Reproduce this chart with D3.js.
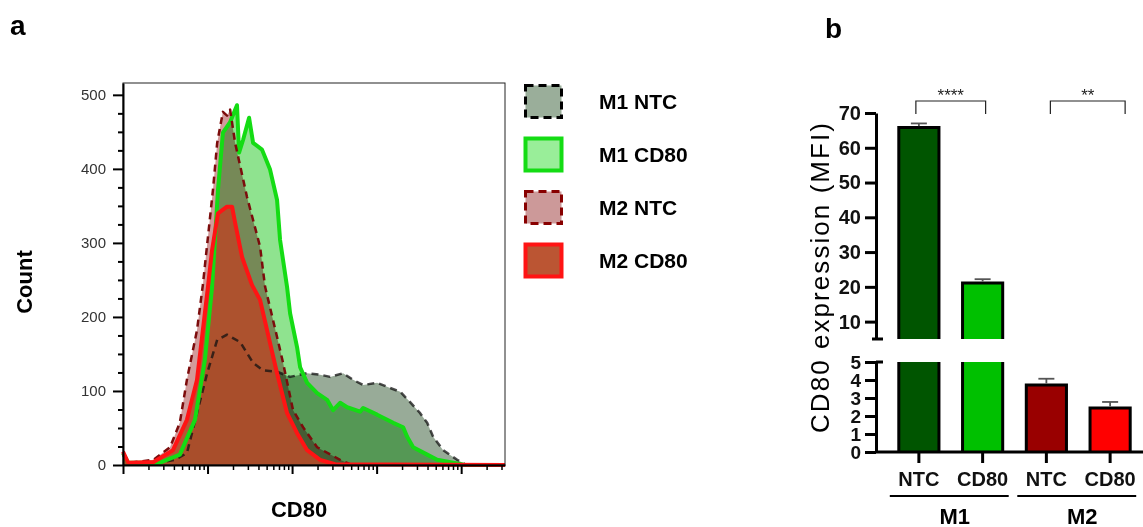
<!DOCTYPE html>
<html>
<head>
<meta charset="utf-8">
<script src="https://cdn.jsdelivr.net/npm/d3@7"></script>
<style>
body { margin: 0; background: #fff; }
svg { font-family: "Liberation Sans", Arial, sans-serif; }
</style>
</head>
<body>
<div class="chart"></div>
<script>
// ---- panel a: CD80 histograms (intensity, count)
const histNames = ["M1 NTC", "M1 CD80", "M2 NTC", "M2 CD80"];

const m1ntcX = [10, 11.5, 27, 41, 57, 75, 99, 130, 170, 243, 346, 454, 664, 947, 1507, 2145, 2818, 4015, 5270, 6925, 10140, 14450, 18980, 24900, 32730, 39630, 46670, 61250, 89700, 111400, 330000];
const m1ntcY = [13, 3, 3, 7, 16, 70, 124, 169, 176, 166, 138, 128, 126, 119, 124, 122, 119, 124, 115, 108, 111, 104, 99, 85, 70, 57, 38, 20, 7, 1, 0];

const m1cd80X = [10, 11.5, 27, 47, 71, 93, 113, 133, 152, 185, 212, 223, 236, 263, 310, 346, 441, 549, 664, 721, 873, 947, 1146, 1245, 1507, 1978, 2596, 3055, 3699, 4479, 6383, 6925, 10140, 15700, 20600, 22970, 27040, 39630, 52040, 80400, 111400, 330000];
const m1cd80Y = [16, 3, 3, 14, 61, 142, 240, 372, 449, 463, 480, 486, 422, 439, 469, 435, 426, 399, 358, 304, 240, 205, 159, 132, 111, 97, 88, 74, 84, 78, 72, 77, 68, 57, 51, 38, 24, 14, 7, 3, 0, 0];

const m2ntcX = [10, 12, 23, 36, 47, 57, 75, 88, 116, 130, 152, 170, 185, 212, 293, 418, 479, 664, 782, 1027, 1350, 1978, 3699, 4857, 330000];
const m2ntcY = [15, 3, 7, 24, 57, 115, 182, 243, 372, 435, 477, 472, 480, 435, 362, 295, 241, 173, 138, 74, 51, 24, 7, 1, 0];

const m2cd80X = [10, 11.5, 23, 39, 57, 75, 88, 101, 113, 133, 170, 195, 212, 256, 336, 418, 506, 664, 873, 1146, 1507, 2145, 3228, 330000];
const m2cd80Y = [18, 3, 4, 20, 61, 115, 182, 240, 290, 340, 349, 349, 327, 281, 243, 223, 182, 124, 70, 43, 20, 7, 1, 0];

const countTicks = [0, 100, 200, 300, 400, 500];
const decadeTicks = [10, 100, 1000, 10000, 100000];

// ---- panel b: CD80 MFI bars
const barKeys = ["M1 NTC", "M1 CD80", "M2 NTC", "M2 CD80"];
const barLabels = ["NTC", "CD80", "NTC", "CD80"];
const barMeans = [65.8, 21.1, 3.72, 2.45];
const barErrors = [1.2, 1.1, 0.35, 0.33];
const groupNames = ["M1", "M2"];
const groupMembers = [["M1 NTC", "M1 CD80"], ["M2 NTC", "M2 CD80"]];
const upperTicks = [10, 20, 30, 40, 50, 60, 70];
const lowerTicks = [0, 1, 2, 3, 4, 5];
const sigPairs = [["M1 NTC", "M1 CD80"], ["M2 NTC", "M2 CD80"]];
const sigLabels = ["****", "**"];

// styles
const histStyle = {
    "M1 NTC":  {fill: "#98ab98", blend: "multiply", op: 1, stroke: "#111", sw: 2.5, dash: "7,5", legFill: "#9aae9a", legStroke: "#000"},
    "M1 CD80": {fill: "#8fe38f", blend: "multiply", op: 1, stroke: "#14dc14", sw: 4, dash: null, legFill: "#99ee99", legStroke: "#14dc14"},
    "M2 NTC":  {fill: "#d29a9a", blend: "multiply", op: 1, stroke: "#7c0c0c", sw: 2.5, dash: "7,5", legFill: "#cc9999", legStroke: "#880000"},
    "M2 CD80": {fill: "#b44c2a", blend: "normal", op: 0.9, stroke: "#ff1414", sw: 4, dash: null, legFill: "#bb5533", legStroke: "#ff1414"}
};
const barColors = {"M1 NTC": "#005500", "M1 CD80": "#00c000", "M2 NTC": "#990000", "M2 CD80": "#ff0000"};

const svg = d3.select(".chart")
    .append("svg")
    .attr("width", 1143)
    .attr("height", 527);

// ================= panel a =================
const hx = d3.scaleLog().domain([10, 330000]).range([123, 505]);
const hy = d3.scaleLinear().domain([0, 516]).range([465, 83]);

const histSeries = [
    {name: histNames[0], x: m1ntcX, y: m1ntcY},
    {name: histNames[1], x: m1cd80X, y: m1cd80Y},
    {name: histNames[2], x: m2ntcX, y: m2ntcY},
    {name: histNames[3], x: m2cd80X, y: m2cd80Y}
];
histSeries.forEach(s => { s.pts = s.x.map((v, i) => [v, s.y[i]]); });

const area = d3.area()
    .x(d => hx(d[0]))
    .y0(hy(0))
    .y1(d => hy(d[1]));
const line = d3.line()
    .x(d => hx(d[0]))
    .y(d => hy(d[1]));

const plotA = svg.append("g").style("isolation", "isolate");

// fills first
histSeries.forEach(s => {
    const st = histStyle[s.name];
    plotA.append("path")
        .datum(s.pts)
        .attr("d", area)
        .attr("fill", st.fill)
        .attr("fill-opacity", st.op)
        .style("mix-blend-mode", st.blend);
});
// outlines on top
histSeries.forEach(s => {
    const st = histStyle[s.name];
    plotA.append("path")
        .datum(s.pts)
        .attr("d", line)
        .attr("fill", "none")
        .attr("stroke", st.stroke)
        .attr("stroke-width", st.sw)
        .attr("stroke-dasharray", st.dash)
        .attr("stroke-linejoin", "round")
        .attr("stroke-opacity", s.name === "M1 NTC" ? 0.75 : 1);
});

// frame
svg.append("rect")
    .attr("x", hx.range()[0])
    .attr("y", hy.range()[1])
    .attr("width", hx.range()[1] - hx.range()[0])
    .attr("height", hy.range()[0] - hy.range()[1])
    .attr("fill", "none")
    .attr("stroke", "#222")
    .attr("stroke-width", 1);

// left axis
const yAxA = svg.append("g")
    .attr("transform", "translate(" + hx.range()[0] + ",0)")
    .call(d3.axisLeft(hy).tickValues(countTicks).tickSize(10).tickSizeOuter(0).tickPadding(7))
    .attr("color", "#000");
yAxA.selectAll("line, path").attr("stroke-width", 2);
yAxA.selectAll("text").attr("font-size", 15).attr("fill", "#333");

svg.append("g")
    .attr("transform", "translate(" + hx.range()[0] + ",0)")
    .call(d3.axisLeft(hy).tickValues(d3.range(25, 500, 25).filter(v => v % 100 !== 0)).tickSize(5).tickFormat(""))
    .call(g => g.select(".domain").remove())
    .selectAll("line").attr("stroke-width", 2);

// bottom axis (log)
const xAxA = svg.append("g")
    .attr("transform", "translate(0," + hy.range()[0] + ")")
    .call(d3.axisBottom(hx).tickValues(decadeTicks).tickSize(9).tickSizeOuter(0).tickFormat(""))
    .attr("color", "#000");
xAxA.selectAll("line, path").attr("stroke-width", 2);

svg.append("g")
    .attr("transform", "translate(0," + hy.range()[0] + ")")
    .call(d3.axisBottom(hx).tickValues(hx.ticks().filter(v => decadeTicks.indexOf(v) < 0)).tickSize(5).tickFormat(""))
    .call(g => g.select(".domain").remove())
    .selectAll("line").attr("stroke-width", 1.5);

// titles
svg.append("text")
    .attr("x", 299).attr("y", 517)
    .attr("text-anchor", "middle")
    .attr("font-size", 22).attr("font-weight", "bold")
    .text("CD80");
svg.append("text")
    .attr("transform", "translate(32,282) rotate(-90)")
    .attr("text-anchor", "middle")
    .attr("font-size", 22).attr("font-weight", "bold")
    .text("Count");
svg.append("text")
    .attr("x", 10).attr("y", 35)
    .attr("font-size", 28).attr("font-weight", "bold")
    .text("a");

// legend
const legend = svg.append("g").selectAll("g")
    .data(histNames)
    .join("g")
    .attr("transform", (d, i) => "translate(524," + (84 + i * 53) + ")");
legend.append("rect")
    .attr("x", 1.5).attr("y", 1.5)
    .attr("width", 36).attr("height", 32)
    .attr("fill", d => histStyle[d].legFill)
    .attr("stroke", d => histStyle[d].legStroke)
    .attr("stroke-width", d => histStyle[d].dash ? 3 : 4)
    .attr("stroke-dasharray", d => histStyle[d].dash ? "8,5" : null);
legend.append("text")
    .attr("x", 75).attr("y", 17)
    .attr("dy", "0.36em")
    .attr("font-size", 21).attr("font-weight", "bold")
    .text(d => d);

// ================= panel b =================
const axX = 876;
const by1 = d3.scaleLinear().domain([5, 70]).range([339, 113]);
const by2 = d3.scaleLinear().domain([0, 5]).range([452, 362]);
const bx = d3.scaleBand().domain(barKeys).range([887, 1142]).paddingInner(0.37).paddingOuter(0.185);

// bars, drawn in two segments around the axis break
const segments = [
    {scale: by1, lo: 5, hi: 70},
    {scale: by2, lo: 0, hi: 5}
];
barKeys.forEach((k, i) => {
    const v = barMeans[i];
    const x0 = bx(k), x1 = bx(k) + bx.bandwidth();
    segments.forEach(seg => {
        if (v <= seg.lo) return;
        const top = seg.scale(Math.min(v, seg.hi));
        const bot = seg.scale(seg.lo);
        svg.append("rect")
            .attr("x", x0).attr("y", top)
            .attr("width", x1 - x0).attr("height", bot - top)
            .attr("fill", barColors[k]);
        const p = d3.path();
        p.moveTo(x0, bot);
        p.lineTo(x0, top);
        if (v <= seg.hi) p.lineTo(x1, top); else p.moveTo(x1, top);
        p.lineTo(x1, bot);
        svg.append("path")
            .attr("d", p.toString())
            .attr("fill", "none")
            .attr("stroke", "#000")
            .attr("stroke-width", 3)
            .attr("stroke-linejoin", "miter");
    });
    // error bar (upper half)
    const sc = v > 5 ? by1 : by2;
    const cx = bx(k) + bx.bandwidth() / 2;
    const eg = svg.append("g").attr("stroke", "#555").attr("stroke-width", 1.8);
    eg.append("line").attr("x1", cx).attr("x2", cx).attr("y1", sc(v) - 1.5).attr("y2", sc(v + barErrors[i]));
    eg.append("line").attr("x1", cx - 8).attr("x2", cx + 8).attr("y1", sc(v + barErrors[i])).attr("y2", sc(v + barErrors[i]));
});

// y axes (broken)
function styleAxis(g) {
    g.attr("color", "#000");
    g.selectAll("line, path").attr("stroke-width", 3);
    g.selectAll("text").attr("font-size", 20).attr("font-weight", "bold").attr("fill", "#111");
}
svg.append("g")
    .attr("transform", "translate(" + axX + ",0)")
    .call(d3.axisLeft(by1).tickValues(upperTicks).tickSize(11).tickSizeOuter(0).tickPadding(4).tickFormat(d3.format("d")))
    .call(styleAxis);
svg.append("g")
    .attr("transform", "translate(" + axX + ",0)")
    .call(d3.axisLeft(by2).tickValues(lowerTicks).tickSize(11).tickSizeOuter(0).tickPadding(4).tickFormat(d3.format("d")))
    .call(styleAxis)
    .selectAll("text").attr("font-size", 19);
// caps at the break
svg.append("line")
    .attr("x1", axX - 4).attr("x2", axX + 7)
    .attr("y1", by1(5)).attr("y2", by1(5))
    .attr("stroke", "#000").attr("stroke-width", 3);
svg.append("line")
    .attr("x1", axX).attr("x2", axX + 7)
    .attr("y1", by2(5)).attr("y2", by2(5))
    .attr("stroke", "#000").attr("stroke-width", 3);

// x axis
const xAxB = svg.append("g")
    .attr("transform", "translate(0," + by2(0) + ")")
    .call(d3.axisBottom(bx).tickSize(11).tickSizeOuter(0).tickPadding(9).tickFormat((d, i) => barLabels[i]))
    .call(styleAxis);
xAxB.select(".domain").attr("d", "M" + axX + ",0H1143");

// group lines and labels
groupMembers.forEach((m, i) => {
    const left = bx(m[0]) - 9;
    const right = bx(m[m.length - 1]) + bx.bandwidth() + 6;
    svg.append("line")
        .attr("x1", left).attr("x2", right)
        .attr("y1", 496).attr("y2", 496)
        .attr("stroke", "#000").attr("stroke-width", 2);
    const mid = (bx(m[0]) + bx(m[m.length - 1]) + bx.bandwidth()) / 2;
    svg.append("text")
        .attr("x", mid + 4).attr("y", 524)
        .attr("text-anchor", "middle")
        .attr("font-size", 22).attr("font-weight", "bold")
        .text(groupNames[i]);
});

// significance brackets
sigPairs.forEach((pr, i) => {
    const a = bx(pr[0]) + bx.bandwidth() / 2 - 3 + i * 7;
    const b = bx(pr[1]) + bx.bandwidth() / 2 + 3 + i * 12;
    svg.append("path")
        .attr("d", "M" + a + ",114V101H" + b + "V114")
        .attr("fill", "none")
        .attr("stroke", "#222")
        .attr("stroke-width", 1.2);
    svg.append("text")
        .attr("x", (a + b) / 2).attr("y", 101)
        .attr("text-anchor", "middle")
        .attr("font-size", 17)
        .attr("fill", "#222")
        .text(sigLabels[i]);
});

// y title
svg.append("text")
    .attr("transform", "translate(829,278) rotate(-90)")
    .attr("text-anchor", "middle")
    .attr("font-size", 26)
    .attr("textLength", 310)
    .attr("lengthAdjust", "spacing")
    .text("CD80 expression  (MFI)");

svg.append("text")
    .attr("x", 825).attr("y", 38)
    .attr("font-size", 28).attr("font-weight", "bold")
    .text("b");
</script>
</body>
</html>
